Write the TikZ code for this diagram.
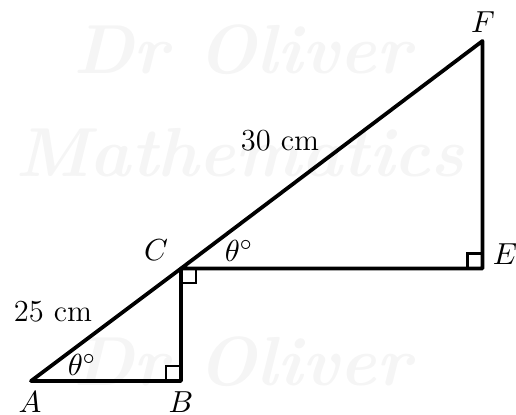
\documentclass[tikz,border=0pt]{standalone}
\usepackage{tikz}
\begin{document}
\begin{tikzpicture}[x=0.36pt,y=-0.36pt,
  edge/.style={line width=1.35pt,line join=round,line cap=round},
  rightmark/.style={line width=0.9pt},
  lbl/.style={font=\fontsize{11}{13}\selectfont,inner sep=0pt},
  wmark/.style={font=\fontsize{25}{30}\selectfont\bfseries\itshape,text=black!4,inner sep=0pt}]
\useasboundingbox (0,0) rectangle (516,415);
% watermark
\node[wmark] (w1) at (242,50) {Dr Oliver};
\node[wmark] (w2) at (240,153) {Mathematics};
\node[wmark] (w3) at (242,362) {Dr Oliver};
% points
\coordinate (A) at (31,381);
\coordinate (B) at (181,381);
\coordinate (C) at (181,268.5);
\coordinate (E) at (482.5,268.5);
\coordinate (F) at (482.5,41);
% right angle marks
\draw[rightmark] (166,381) -- (166,366) -- (181,366);
\draw[rightmark] (181,283) -- (196,283) -- (196,268.5);
\draw[rightmark] (467.5,268.5) -- (467.5,253.5) -- (482.5,253.5);
% main lines
\draw[edge] (A) -- (B) -- (C) -- cycle;
\draw[edge] (C) -- (E) -- (F) -- cycle;
% labels
\node[lbl] (lA) at (30,402) {$A$};
\node[lbl] (lB) at (181,402) {$B$};
\node[lbl] (lC) at (156,250) {$C$};
\node[lbl] (lE) at (505,254) {$E$};
\node[lbl] (lF) at (483,22) {$F$};
\node[lbl] (t1) at (82,365) {$\theta^\circ$};
\node[lbl] (t2) at (239,251) {$\theta^\circ$};
\node[lbl] (l25) at (53,312) {25 cm};
\node[lbl] (l30) at (280,141) {30 cm};
\end{tikzpicture}
\end{document}
